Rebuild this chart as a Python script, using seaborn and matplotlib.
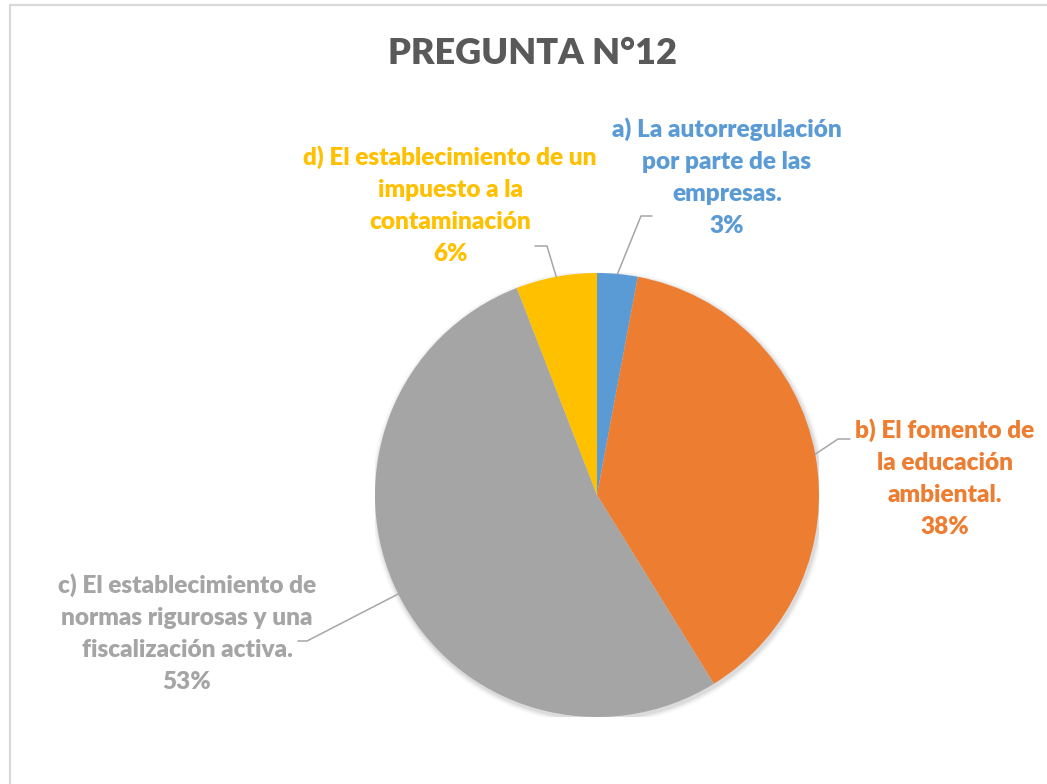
import numpy as np
import matplotlib.pyplot as plt
from matplotlib.patches import Rectangle, Circle
import seaborn as sns

# Survey answers (counts read as 1/34, 13/34, 18/34, 2/34)
labels = ['a) La autorregulación\npor parte de las\nempresas.',
          'b) El fomento de\nla educación\nambiental.',
          'c) El establecimiento de\nnormas rigurosas y una\nfiscalización activa.',
          'd) El establecimiento de un\nimpuesto a la\ncontaminación']
counts = [1, 13, 18, 2]
colors = ['#5B9BD5', '#ED7D31', '#A5A5A5', '#FFC000']
title = 'PREGUNTA N°12'

sns.set_style('white')
plt.rcParams['font.family'] = ['Lato', 'DejaVu Sans']

W, H = 1047, 784
fig = plt.figure(figsize=(W / 100, H / 100), dpi=100)

# pie centre / radius in pixels
cx, cy, R = 597, 495, 222
ax = fig.add_axes([(cx - R) / W, (H - cy - R) / H, 2 * R / W, 2 * R / H])

def d(px, py):
    # pixel -> data coords of the pie axes
    return (px - cx) / R, (cy - py) / R

# soft shadow
for i, a in enumerate([0.05, 0.04, 0.03, 0.02]):
    ax.add_patch(Circle((0.006, -0.010), 1.0 + 0.006 * (i + 1), color='black',
                        alpha=a, lw=0, zorder=0))

wedges, _ = ax.pie(counts, colors=colors, startangle=90, counterclock=False,
                   radius=1, wedgeprops=dict(linewidth=0, zorder=2))
ax.set_xlim(-1, 1)
ax.set_ylim(-1, 1)
ax.set_axis_off()

total = sum(counts)
pcts = ['%d%%' % round(100 * c / total) for c in counts]

# label centres (first line) and leader elbows, in pixels
text_pos = [(727, 130), (945, 431), (187, 586), (450, 158)]
elbows = [((641, 216), (652, 216)),
          ((838, 439), (850, 439)),
          ((307, 641), (298, 641)),
          ((547, 246), (535, 246))]

for w, lab, pct, col, (tx, ty), (e1, e2) in zip(wedges, labels, pcts, colors, text_pos, elbows):
    mid = np.deg2rad((w.theta1 + w.theta2) / 2)
    p = (np.cos(mid), np.sin(mid))
    pts = [p, d(*e1), d(*e2)]
    ax.plot([q[0] for q in pts], [q[1] for q in pts], color='#A6A6A6', lw=1.1,
            clip_on=False, zorder=3)
    # top of block placed so first line centre sits at ty
    x, y = d(tx, ty - 13)
    ax.text(x, y, lab + '\n' + pct, color=col, fontsize=17.6, fontweight='heavy',
            ha='center', va='top', linespacing=1.57, clip_on=False)

fig.text(533 / W, 1 - 53 / H, title, ha='center', va='center', fontsize=26,
         fontweight='heavy', color='#595959')

fig.add_artist(Rectangle((10 / W, -0.1), 2, (H - 5) / H + 0.1, transform=fig.transFigure,
                         fill=False, edgecolor='#D9D9D9', lw=1.6))

fig.savefig('out.png', dpi=100)
